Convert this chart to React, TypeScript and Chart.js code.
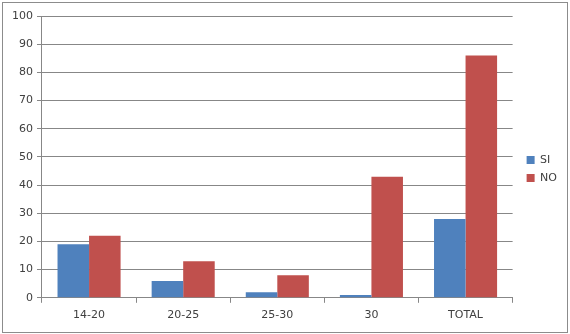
import React, { useEffect, useRef } from "react";
import { Chart, registerables } from "chart.js";

Chart.register(...registerables);

const categories = ["14-20", "20-25", "25-30", "30", "TOTAL"];
const siValues = [19, 6, 2, 1, 28];
const noValues = [22, 13, 8, 43, 86];
const seriesNames = ["SI", "NO"];

const legendShift = {
  id: "legendShift",
  afterLayout(chart: any) {
    const l = chart.legend;
    if (!l) return;
    l.left += 7;
    l.right += 7;
    l.top -= 3;
    l.bottom -= 3;
  },
};

export default function App() {
  const ref = useRef<HTMLCanvasElement>(null);
  useEffect(() => {
    document.body.style.margin = "0";
    const font = { family: "DejaVu Sans", size: 11 };
    const chart = new Chart(ref.current!, {
      type: "bar",
      data: {
        labels: categories,
        datasets: [
          { label: seriesNames[0], data: siValues, backgroundColor: "#4F81BD", borderWidth: 0 },
          { label: seriesNames[1], data: noValues, backgroundColor: "#C0504D", borderWidth: 0 },
        ],
      },
      options: {
        animation: false,
        responsive: false,
        devicePixelRatio: 1,
        layout: { padding: { top: 16, left: 8, right: 10, bottom: 6 } },
        datasets: { bar: { categoryPercentage: 0.67, barPercentage: 1 } },
        plugins: {
          legend: {
            position: "right",
            labels: { boxWidth: 8, boxHeight: 8, padding: 7, color: "#404040", font },
          },
          tooltip: { enabled: false },
        },
        scales: {
          x: {
            grid: { drawOnChartArea: false, drawTicks: true, tickLength: 5, color: "#878787" },
            border: { color: "#878787" },
            ticks: { color: "#404040", font, padding: 6 },
          },
          y: {
            min: 0,
            max: 100,
            ticks: { stepSize: 10, color: "#404040", font, padding: 4 },
            grid: { color: "#878787", tickLength: 5 },
            border: { color: "#878787" },
          },
        },
      },
      plugins: [legendShift],
    });
    return () => chart.destroy();
  }, []);
  return (
    <div style={{ position: "relative", width: 570, height: 334 }}>
      <canvas ref={ref} width={570} height={334} style={{ position: "absolute", left: 0, top: 0 }} />
      <div
        style={{
          position: "absolute",
          left: 2,
          top: 2,
          width: 564,
          height: 329,
          border: "1px solid #8c8c8c",
          pointerEvents: "none",
        }}
      />
    </div>
  );
}
